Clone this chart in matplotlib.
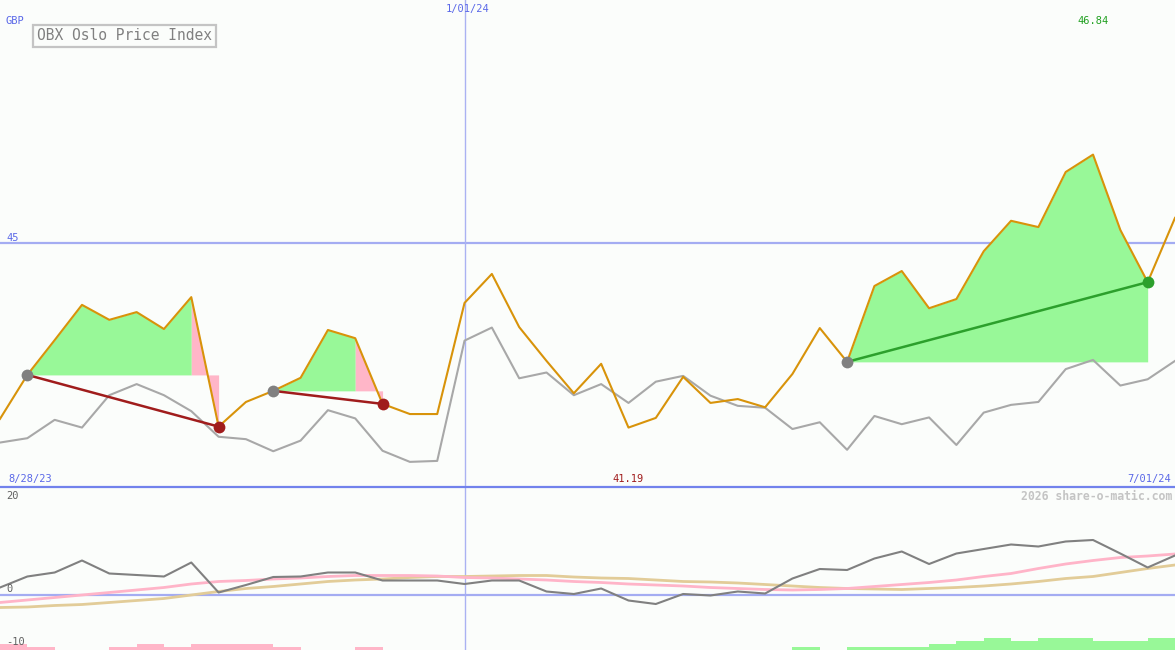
import matplotlib
matplotlib.use("Agg")
import matplotlib.pyplot as plt
from matplotlib.lines import Line2D
import numpy as np
import pandas as pd

# weekly closes, OBX Oslo Price Index (GBP)
weeks = pd.date_range("2023-09-04", periods=44, freq="W-MON")
price = [
    41.37, 42.28, 43.00, 43.73, 43.42, 43.58, 43.23, 43.89, 41.21, 41.72,
    41.95, 42.22, 43.21, 43.04, 41.68, 41.47, 41.47, 43.77, 44.37, 43.27,
    42.57, 41.90, 42.51, 41.19, 41.39, 42.24, 41.70, 41.78, 41.61, 42.30,
    43.25, 42.55, 44.12, 44.43, 43.66, 43.85, 44.84, 45.47, 45.34, 46.48,
    46.84, 45.28, 44.20, 45.53,
]
# comparison index, rescaled onto the price axis
compare = [
    40.88, 40.97, 41.35, 41.19, 41.86, 42.09, 41.86, 41.53, 41.00, 40.95,
    40.70, 40.92, 41.55, 41.38, 40.71, 40.48, 40.50, 42.99, 43.26, 42.21,
    42.33, 41.86, 42.09, 41.70, 42.14, 42.26, 41.85, 41.64, 41.60, 41.16,
    41.30, 40.73, 41.43, 41.26, 41.40, 40.83, 41.50, 41.66, 41.72, 42.40,
    42.59, 42.06, 42.19, 42.57,
]

# lower panel indicator
momentum = [
    1.5, 3.7, 4.5, 6.9, 4.3, 4.0, 3.7, 6.5, 0.5, 2.0,
    3.6, 3.7, 4.5, 4.5, 2.9, 2.9, 2.9, 2.2, 2.9, 2.9,
    0.7, 0.2, 1.3, -1.1, -1.8, 0.2, -0.1, 0.7, 0.3, 3.3,
    5.2, 5.0, 7.3, 8.7, 6.2, 8.3, 9.2, 10.1, 9.7, 10.7,
    11.0, 8.3, 5.5, 7.9,
]
avg_fast = [
    -1.5, -1.0, -0.5, 0.0, 0.5, 1.0, 1.5, 2.2, 2.7, 2.9,
    3.2, 3.4, 3.7, 3.9, 3.9, 3.9, 3.8, 3.5, 3.4, 3.2,
    3.0, 2.7, 2.5, 2.2, 2.0, 1.8, 1.5, 1.3, 1.1, 1.0,
    1.1, 1.3, 1.7, 2.1, 2.5, 3.0, 3.7, 4.3, 5.3, 6.2,
    6.9, 7.5, 7.8, 8.2,
]
avg_slow = [
    -2.5, -2.4, -2.1, -1.9, -1.5, -1.1, -0.7, 0.0, 0.7, 1.3,
    1.7, 2.2, 2.7, 3.0, 3.2, 3.5, 3.7, 3.7, 3.8, 3.9,
    3.9, 3.6, 3.4, 3.3, 3.0, 2.7, 2.6, 2.4, 2.1, 1.8,
    1.5, 1.3, 1.2, 1.1, 1.3, 1.5, 1.8, 2.2, 2.7, 3.3,
    3.7, 4.5, 5.3, 6.0,
]
# signal strength: negative = pink, positive = green
signal = [
    -2, -1, 0, 0, -1, -2, -1, -2, -2, -2,
    -1, 0, 0, -1, 0, 0, 0, 0, 0, 0,
    0, 0, 0, 0, 0, 0, 0, 0, 0, 1,
    0, 1, 1, 1, 2, 3, 4, 3, 4, 4,
    3, 3, 4, 0,
]

trade_entries = [1, 10, 31]
trade_exits = [8, 14, 42]

BG = "#fbfdfb"
BLUE_TXT = "#5a68e8"
MONO = "DejaVu Sans Mono"
W, H = 1175, 650

x = np.arange(len(price))
price_arr = np.array(price)

fig = plt.figure(figsize=(W / 100, H / 100), dpi=100)
fig.patch.set_facecolor(BG)
split = 163 / H
ax = fig.add_axes([0, split, 1, 1 - split])
axb = fig.add_axes([0, 0, 1, split])
for a in (ax, axb):
    a.set_facecolor(BG)
    a.set_xticks([])
    a.set_yticks([])
    for s in a.spines.values():
        s.set_visible(False)
    a.set_xlim(0, len(price) - 1)

ax.set_ylim(39.96, 50.04)
axb.set_ylim(-11, 21.6)

# reference lines
ax.axhline(45, color="#a4acf2", lw=1.6, zorder=0)
new_year = int(np.where(weeks == pd.Timestamp("2024-01-01"))[0][0])
ax.axvline(new_year, color="#aab2f2", lw=1.0, zorder=0)
axb.axvline(new_year, color="#aab2f2", lw=1.0, zorder=0)
axb.axhline(0, color="#a4acf2", lw=1.6, zorder=0)
fig.add_artist(Line2D([0, 1], [split, split], color="#7282ec", lw=1.6))

# trades: fills, connecting lines, markers
for entry, exit_ in zip(trade_entries, trade_exits):
    base = price[entry]
    gain = price[exit_] >= base
    if gain:
        seg = slice(entry, exit_ + 1)
        ax.fill_between(x[seg], price_arr[seg], base, color="#98f898", lw=0, zorder=1)
    else:
        seg = slice(entry, exit_)
        ax.fill_between(x[seg], price_arr[seg], base, color="#98f898", lw=0, zorder=1)
        last = slice(exit_ - 1, exit_ + 1)
        ax.fill_between(x[last], price_arr[last], base, color="#ffb6c8", lw=0, zorder=1)
    line_c = "#2ca02c" if gain else "#a01c1c"
    ax.plot([entry, exit_], [price[entry], price[exit_]], color=line_c, lw=1.8, zorder=4)
    ax.plot(entry, price[entry], "o", color="#808080", ms=8.5, mec="none", zorder=5)
    ax.plot(exit_, price[exit_], "o", color=line_c, ms=8.5, mec="none", zorder=5)

ax.plot(x, compare, color="#a8a8a8", lw=1.5, zorder=2)
ax.plot(x, price, color="#d8930a", lw=1.5, zorder=3)

# lower panel
bar_scale = 0.6
sig = np.array(signal)
bar_colors = ["#98f898" if v > 0 else "#ffb6c8" for v in sig]
axb.bar(x, np.abs(sig) * bar_scale, width=1.0, align="edge", bottom=-11,
        color=bar_colors, lw=0, zorder=1)
axb.plot(x, avg_slow, color="#e2cc98", lw=2.0, zorder=2)
axb.plot(x, avg_fast, color="#ffb4c8", lw=2.0, zorder=2)
axb.plot(x, momentum, color="#808080", lw=1.5, zorder=3)


def ptext(px, py, s, **kw):
    kw.setdefault("family", MONO)
    kw.setdefault("fontsize", 7.5)
    kw.setdefault("va", "center")
    return fig.text(px / W, 1 - py / H, s, **kw)


ptext(6, 21, "GBP", color=BLUE_TXT)
ptext(468, 9, weeks[new_year].strftime("%-m/%d/%y"), color=BLUE_TXT, ha="center")
ptext(6, 238, "45", color=BLUE_TXT)
ptext(8, 479, "8/28/23", color=BLUE_TXT)
ptext(1171, 479, weeks[-1].strftime("%-m/%d/%y"), color=BLUE_TXT, ha="right")
ptext(1172, 496, "2026 share-o-matic.com", color="#c4c4c4", fontsize=8.3,
      ha="right", weight="bold")
ptext(6, 496, "20", color="#606060")
ptext(6, 589, "0", color="#606060")
ptext(6, 642, "-10", color="#606060")

# high / low labels placed over their weeks
hi = int(np.argmax(price))
lo = int(np.argmin(price))
ax.text(hi, 1 - 21 / 487, f"{price[hi]:.2f}", transform=ax.get_xaxis_transform(),
        family=MONO, fontsize=7.5, color="#20a020", ha="center", va="center")
ax.text(lo, 8 / 487, f"{price[lo]:.2f}", transform=ax.get_xaxis_transform(),
        family=MONO, fontsize=7.5, color="#a01c1c", ha="center", va="center")

ptext(37, 36, "OBX Oslo Price Index", color="#808080", fontsize=10.5,
      bbox=dict(facecolor=BG, edgecolor="#c4c4c4", lw=1.6,
                boxstyle="square,pad=0.25"))

fig.savefig("out.png", dpi=100, facecolor=BG)
